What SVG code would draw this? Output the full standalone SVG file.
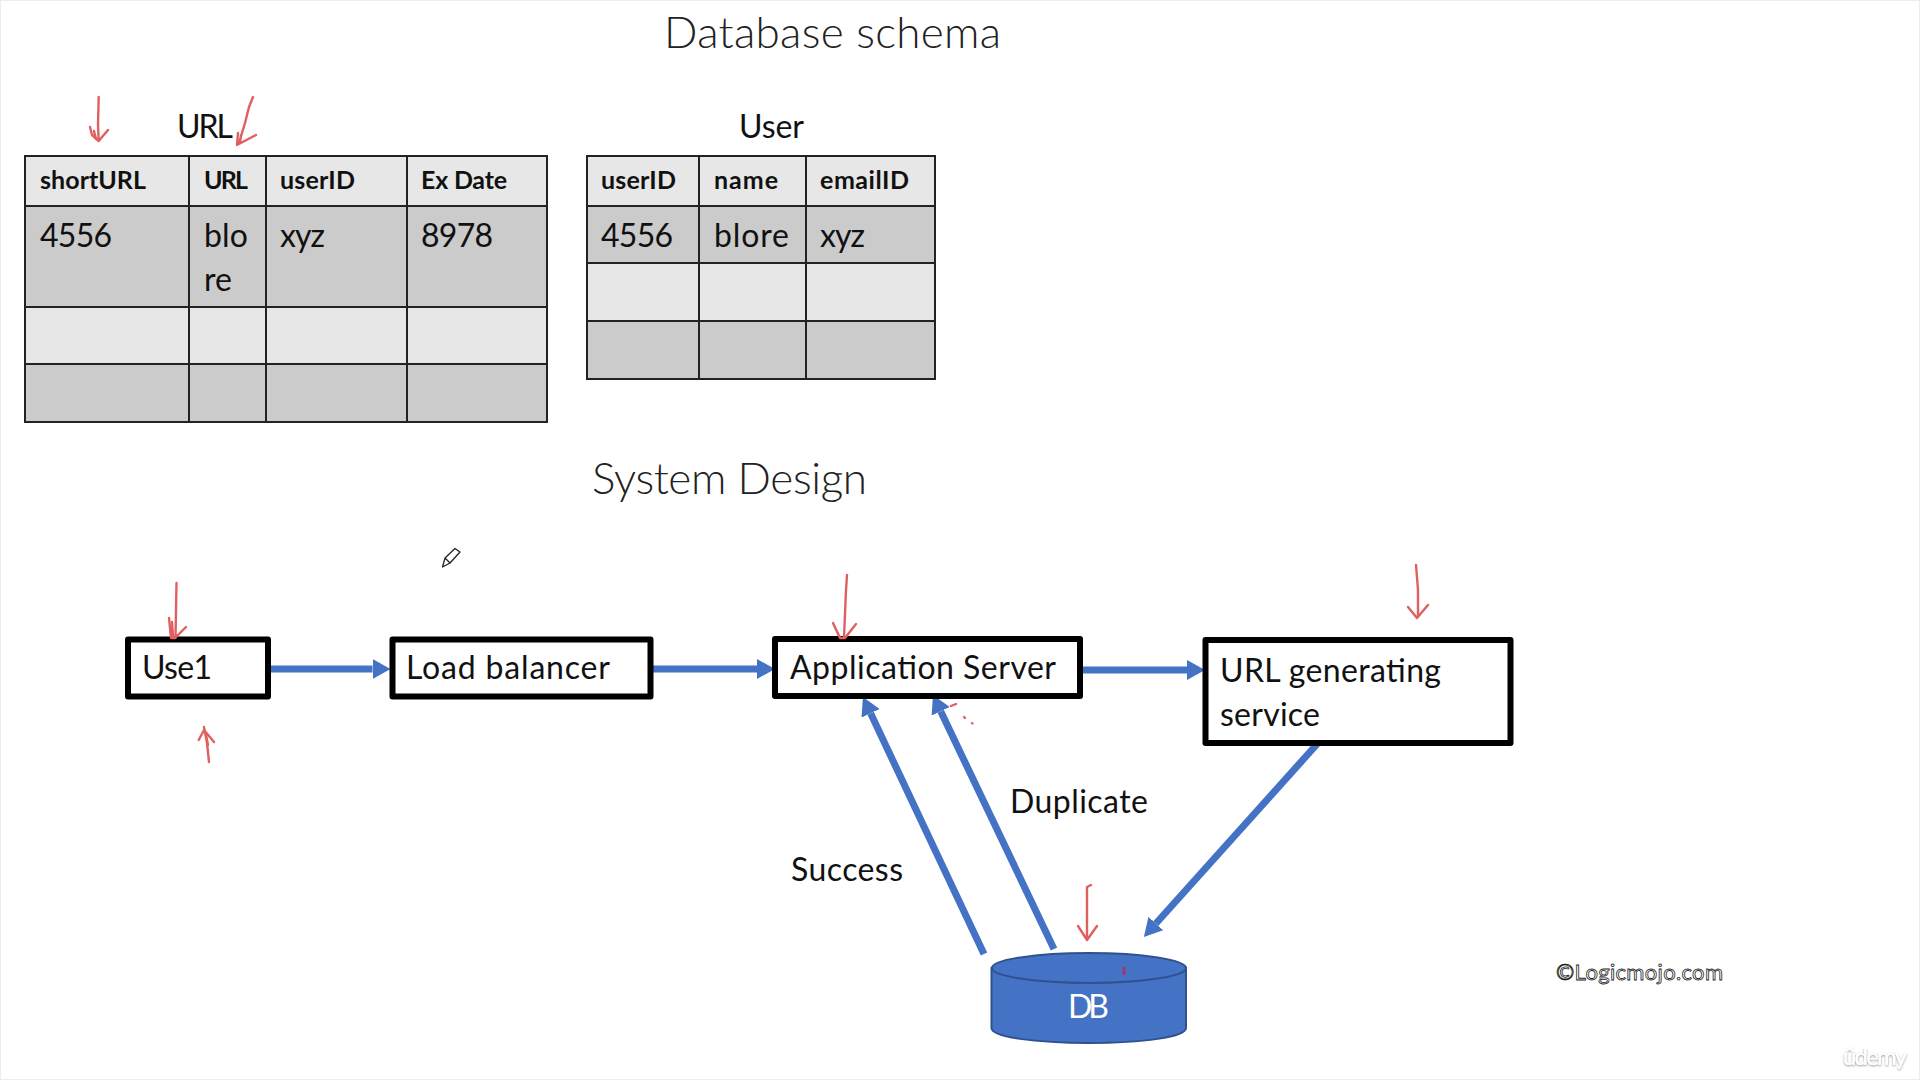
<svg xmlns="http://www.w3.org/2000/svg" width="1920" height="1080" viewBox="0 0 1920 1080">
<style>
text{font-family:"Lato","Noto Sans",sans-serif;fill:#111}
.title{font-size:44px;font-weight:300;fill:#222}
.body{font-size:32px}
.th{font-size:25px;font-weight:700}
.hd{fill:#e7e7e7}.dk{fill:#cbcbcb}
.grid{stroke:#222;stroke-width:2;fill:none}
.box{fill:#fff;stroke:#000;stroke-width:6;stroke-linejoin:round}
.conn{stroke:#4472c4;stroke-width:7;fill:none;marker-end:url(#ah)}
.red{stroke:#e0605f;stroke-width:2.400;fill:none;stroke-linecap:round;stroke-linejoin:round}
</style>
<defs>
<marker id="ah" markerUnits="userSpaceOnUse" markerWidth="20" markerHeight="22" refX="0" refY="10" orient="auto"><path d="M0 0L18 10L0 20Z" fill="#4472c4"/></marker>
<filter id="sh" x="-20%" y="-30%" width="140%" height="160%"><feDropShadow dx="0" dy="1" stdDeviation="1.2" flood-color="#000" flood-opacity=".45"/></filter>
</defs>
<rect width="1920" height="1080" fill="#fff"/>
<rect x="0.5" y="0.5" width="1919" height="1079" fill="none" stroke="#ececec"/>

<text class="title" x="664" y="48" textLength="337">Database schema</text>
<text class="title" x="592" y="494" textLength="275">System Design</text>

<g id="url-table">
<text class="body" x="177" y="138" textLength="56">URL</text>
<rect class="hd" x="25" y="156" width="522" height="50"/>
<rect class="dk" x="25" y="206" width="522" height="101"/>
<rect class="hd" x="25" y="307" width="522" height="57"/>
<rect class="dk" x="25" y="364" width="522" height="58"/>
<path class="grid" d="M25 156H547V422H25ZM25 206H547M25 307H547M25 364H547M189 156V422M266 156V422M407 156V422"/>
<text class="th" x="40" y="189" textLength="106">shortURL</text>
<text class="th" x="204" y="189" textLength="44">URL</text>
<text class="th" x="280" y="189" textLength="75">userID</text>
<text class="th" x="421" y="189" textLength="86">Ex Date</text>
<text class="body" x="40" y="247" textLength="72">4556</text>
<text class="body" x="204" y="247" textLength="44">blo</text>
<text class="body" x="204" y="291" textLength="28">re</text>
<text class="body" x="280" y="247" textLength="45">xyz</text>
<text class="body" x="421" y="247" textLength="72">8978</text>
</g>

<g id="user-table">
<text class="body" x="739" y="138" textLength="65">User</text>
<rect class="hd" x="587" y="156" width="348" height="50"/>
<rect class="dk" x="587" y="206" width="348" height="57"/>
<rect class="hd" x="587" y="263" width="348" height="58"/>
<rect class="dk" x="587" y="321" width="348" height="58"/>
<path class="grid" d="M587 156H935V379H587ZM587 206H935M587 263H935M587 321H935M699 156V379M806 156V379"/>
<text class="th" x="601" y="189" textLength="75">userID</text>
<text class="th" x="714" y="189" textLength="64">name</text>
<text class="th" x="820" y="189" textLength="89">emailID</text>
<text class="body" x="601" y="247" textLength="72">4556</text>
<text class="body" x="714" y="247" textLength="75">blore</text>
<text class="body" x="820" y="247" textLength="45">xyz</text>
</g>

<g id="connectors">
<path class="conn" d="M266 669H372.500"/>
<path class="conn" d="M651 669H757"/>
<path class="conn" d="M1083 670H1187"/>
<path class="conn" d="M984 954L870.600 713.300"/>
<path class="conn" d="M1054 949L940.700 711.300"/>
<path class="conn" d="M1318 743L1155.900 923.500"/>
</g>

<g id="use1"><rect class="box" x="128" y="639.500" width="140" height="57"/><text class="body" x="142" y="679" textLength="70">Use1</text></g>
<g id="load-balancer"><rect class="box" x="392.500" y="639.500" width="258" height="57"/><text class="body" x="406" y="679" textLength="204">Load balancer</text></g>
<g id="application-server"><rect class="box" x="775" y="639" width="305" height="57"/><text class="body" x="790" y="679" textLength="266">Application Server</text></g>
<g id="url-generating-service"><rect class="box" x="1205.500" y="640" width="305" height="103"/><text class="body" x="1220" y="682" textLength="221">URL generating</text><text class="body" x="1220" y="726" textLength="100">service</text></g>
<g id="db">
<path d="M991.500 968V1028C991.500 1037 1035 1043 1089 1043S1186 1037 1186 1028V968Z" fill="#4472c4" stroke="#2f528f" stroke-width="2"/>
<ellipse cx="1089" cy="968" rx="97" ry="15" fill="#4472c4" stroke="#2f528f" stroke-width="2"/>
<text class="body" x="1068" y="1018" textLength="41" style="fill:#fff">DB</text>
</g>

<text class="body" x="791" y="881" textLength="112">Success</text>
<text class="body" x="1010" y="813" textLength="138">Duplicate</text>

<g id="annotations">
<path class="red" d="M98.700 97L98 125L98.700 141M90 127L92 135L98.700 141L108 130M94 131L96 139"/>
<path class="red" d="M253 97L249 107L245 123L239 143M238 133L237 145L256 135M241 135L240 143"/>
<path class="red" d="M176.500 583L175.500 638M169 618L171 638H175L186 627M172 622L173 636"/>
<path class="red" d="M209 762L207 743L204 727M198.700 740L204 730L214 742M206 735L208 745"/>
<path class="red" d="M847 575L846 590L844 638M833 623L840 638H845L856 624"/>
<path class="red" d="M951 706L956 704M964 717L965 718M972 723L972.500 723.500"/>
<path class="red" d="M1416 565L1418 590L1418 617M1408 607L1417 618L1428 605"/>
<path class="red" d="M1091 885L1087 887L1087 938M1078 926L1087 940L1097 926"/>
<path d="M1124 967V975" stroke="#b03060" stroke-width="2.500" fill="none"/>
</g>

<path id="pencil" d="M442.500 567L445 558L455 548.500L460 552L450 563ZM445 558L450 563" fill="#fff" stroke="#222" stroke-width="1.300" stroke-linejoin="round"/>

<text x="1556" y="980" font-size="22" textLength="167" style="fill:#fff;stroke:#222;stroke-width:.8">©Logicmojo.com</text>
<text x="1843" y="1065" font-size="24" textLength="64" style="fill:#fff;filter:url(#sh)">ûdemy</text>
</svg>
